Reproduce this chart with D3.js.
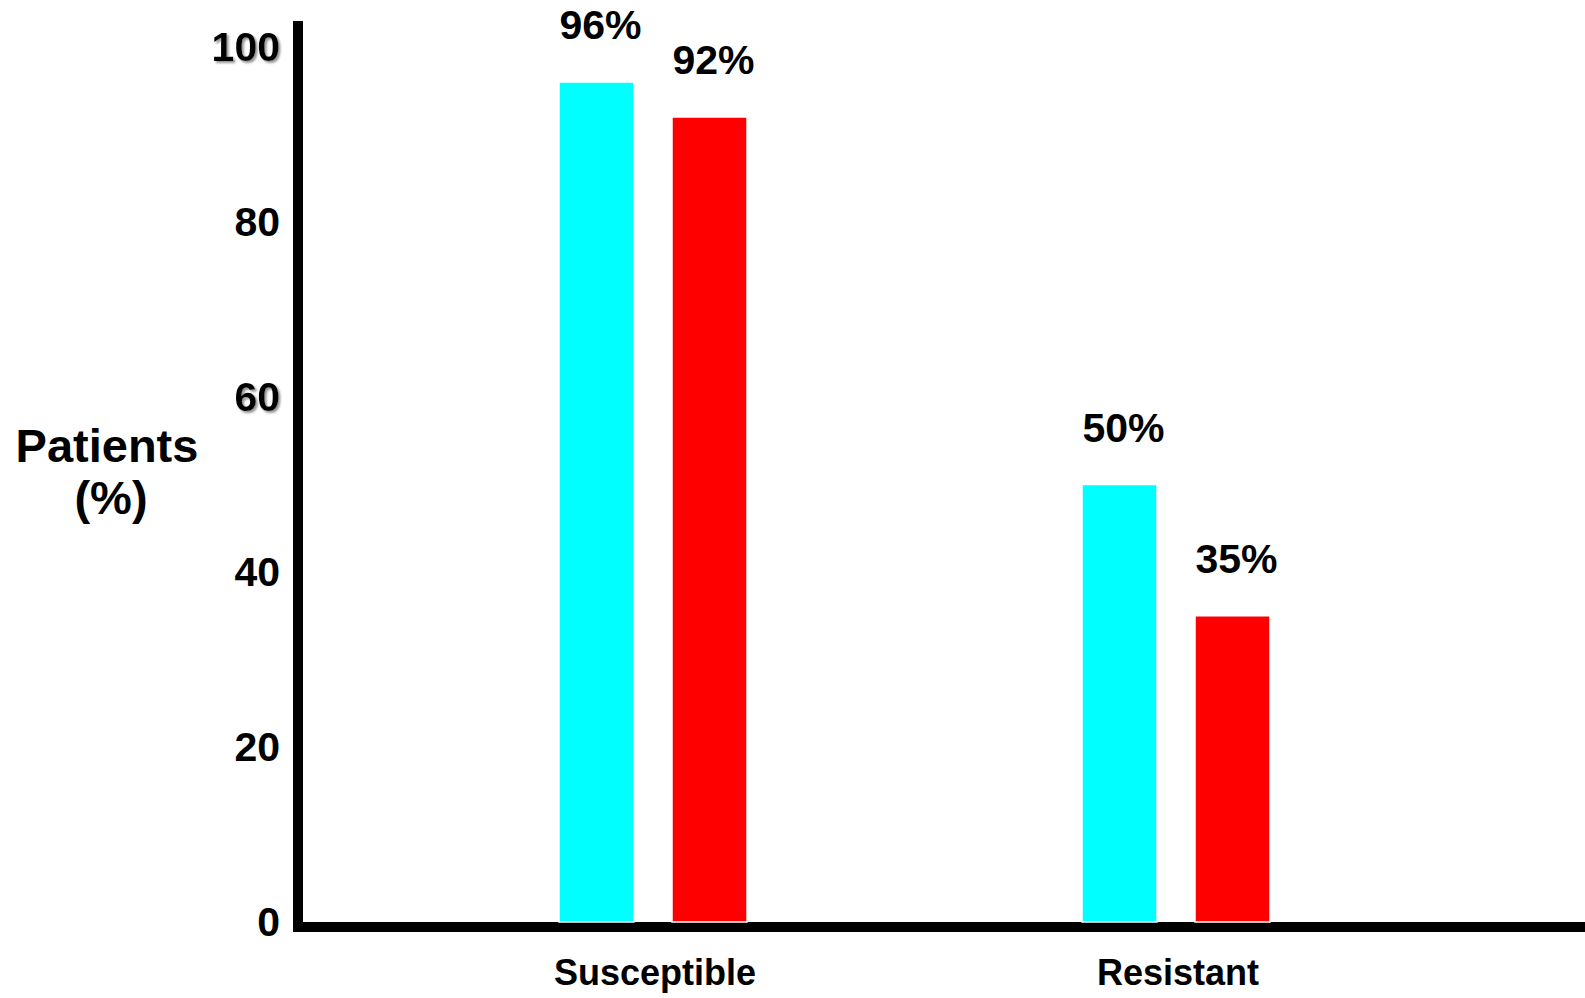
<!DOCTYPE html>
<html>
<head>
<meta charset="utf-8">
<script src="https://cdn.jsdelivr.net/npm/d3@7"></script>
<style>
  html, body { margin: 0; padding: 0; background: #fff; }
  svg { display: block; }
  text { font-family: "Liberation Sans", Arial, Helvetica, sans-serif; font-weight: bold; fill: #000; }
</style>
</head>
<body>
<svg id="chart" width="1585" height="998"></svg>
<script>
// Response rates by strain susceptibility
const categories = ["Susceptible", "Resistant"];
const seriesNames = ["Group A", "Group B"];
const groupA = [96, 50];
const groupB = [92, 35];
const valueLabels = [["96%", "92%"], ["50%", "35%"]];
const yTicks = [0, 20, 40, 60, 80, 100];
const shadowTicks = [100, 60];
const colors = ["#00FFFF", "#FF0000"];

const rows = categories.map((c, i) => ({
  category: c,
  values: [groupA[i], groupB[i]],
  labels: valueLabels[i]
}));

const svg = d3.select("#chart");
const W = 1585, H = 998;
const axisX = 298, baseY = 922;

const y = d3.scaleLinear().domain([0, 100]).range([baseY, 47]);
const x0 = d3.scaleBand().domain(categories).range([391.5, 1437.5]).padding(0);
const x1 = d3.scaleBand().domain(seriesNames).range([-94, 94]).paddingInner(38 / 113).paddingOuter(0);

// Y tick labels (no tick marks)
const yAxis = d3.axisLeft(y).tickValues(yTicks).tickSize(0).tickPadding(0).tickFormat(d3.format("d"));
const gy = svg.append("g").attr("transform", `translate(280,0)`).call(yAxis);
gy.select(".domain").remove();
gy.selectAll(".tick text")
  .attr("font-size", 41)
  .attr("font-family", null)
  .attr("fill", "#000")
  .style("font-family", "'Liberation Sans', Arial, sans-serif")
  .style("font-weight", "bold");
// soft gray shadow on some labels
const defs = svg.append("defs");
const f = defs.append("filter").attr("id", "shadow").attr("x", "-20%").attr("y", "-20%").attr("width", "140%").attr("height", "140%");
f.append("feDropShadow").attr("dx", 2).attr("dy", 2).attr("stdDeviation", 1).attr("flood-color", "#888").attr("flood-opacity", 0.9);
gy.selectAll(".tick").filter(d => shadowTicks.includes(d)).select("text").attr("filter", "url(#shadow)");

// Axis lines
svg.append("rect").attr("x", axisX - 5).attr("y", 21).attr("width", 10).attr("height", baseY + 10 - 21).attr("fill", "#000");
svg.append("rect").attr("x", axisX - 5).attr("y", baseY).attr("width", W - (axisX - 5)).attr("height", 10).attr("fill", "#000");

// Bars
const groups = svg.append("g").selectAll("g").data(rows).join("g")
  .attr("transform", d => `translate(${x0(d.category) + x0.bandwidth() / 2},0)`);

groups.selectAll("rect").data(d => d.values.map((v, j) => ({ v, j, s: seriesNames[j] }))).join("rect")
  .attr("x", d => x1(d.s))
  .attr("y", d => y(d.v))
  .attr("width", x1.bandwidth())
  .attr("height", d => y(0) - y(d.v))
  .attr("fill", d => colors[d.j])
  .attr("stroke", "#fff")
  .attr("stroke-width", 1.5);

// Value labels
groups.selectAll("text.val").data(d => d.values.map((v, j) => ({ v, j, s: seriesNames[j], t: d.labels[j] }))).join("text")
  .attr("class", "val")
  .attr("x", d => x1(d.s) + x1.bandwidth() / 2 + 4)
  .attr("y", d => y(d.v) - 43)
  .attr("text-anchor", "middle")
  .attr("font-size", 41)
  .text(d => d.t);

// Category labels
svg.append("g").selectAll("text").data(categories).join("text")
  .attr("x", d => x0(d) + x0.bandwidth() / 2 + 2)
  .attr("y", 985)
  .attr("text-anchor", "middle")
  .attr("font-size", 36)
  .text(d => d);

// Y axis title
const yt = svg.append("text").attr("text-anchor", "middle").attr("font-size", 47);
yt.append("tspan").attr("x", 107).attr("y", 462).text("Patients");
yt.append("tspan").attr("x", 111).attr("y", 514).text("(%)");
</script>
</body>
</html>
